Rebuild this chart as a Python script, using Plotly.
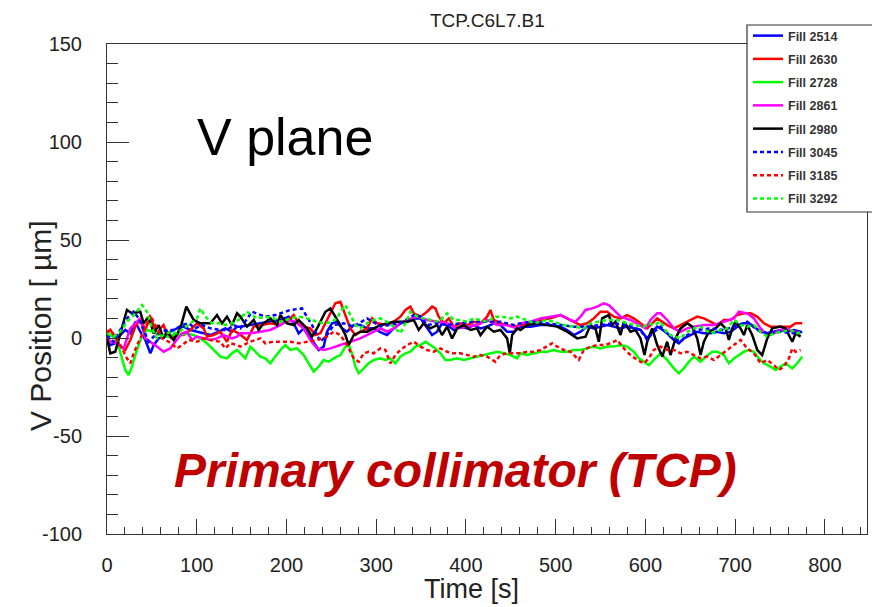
import plotly.graph_objects as go

# ---------------- data (time [s], V position [um]) ----------------
names = ["Fill 2514", "Fill 2630", "Fill 2728", "Fill 2861", "Fill 2980",
         "Fill 3045", "Fill 3185", "Fill 3292"]
colors = ["#0000ff", "#ff0000", "#00ff00", "#ff00ff", "#000000",
          "#0000ff", "#ff0000", "#00ff00"]
dashes = ["solid", "solid", "solid", "solid", "solid",
          "4px,3px", "4px,3px", "4px,3px"]

t_2514 = [0, 3.7, 9.2, 14.8, 20.4, 26, 31.6, 37.1, 42.7, 48.3, 52, 57.6, 63.1, 70.6, 78, 85.4, 92.9, 100.3, 107.7,
          115.2, 124.5, 131.9, 139.3, 144.9, 148.6, 159.7, 170.9, 182, 193.2, 202.5, 208.1, 213.6, 219.2, 224.8,
          230.4, 235.9, 241.5, 245.2, 250.8, 256.4, 261.9, 267.5, 275, 282.4, 289.8, 297.2, 304.7, 312.1, 319.6,
          327, 334.4, 341.9, 349.3, 356.7, 362.3, 367.9, 373.4, 379, 386.5, 393.9, 401.3, 408.7, 416.2, 423.6,
          431, 438.5, 445.9, 453.3, 460.8, 472, 483.1, 494.2, 505.4, 512.8, 520.3, 527.7, 535.1, 542.6, 550,
          557.4, 564.8, 572.3, 579.7, 587.1, 594.6, 602, 607.6, 613.2, 616.9, 624.3, 631.8, 637.3, 642.9, 650.3,
          657.8, 665.2, 672.6, 680.1, 687.5, 694.9, 702.4, 709.8, 715.4, 721, 728.4, 735.8, 743.2, 750.7, 758.1,
          765.5, 773]
v_2514 = [-1.9, -3.6, -2.7, 1.5, 4.1, 2.4, 8.3, 3.2, -1, -7.8, -3.6, -0.2, 0.7, 3.2, 4.9, 5.8, 4.1, 3.2, 2.4,
          1.5, 3.2, 4.9, 3.2, 5.8, 5.8, 6.6, 7.5, 8.3, 9.2, 10.9, 7.5, 2.4, 4.9, 1.5,
          -2.7, -6.1, -4.4, 3.2, 7.5, 8.3, 4.9, 3.2, 6.6, 6.6, 4.9, 5.0, 3.0, 1.5, 4.9,
          7.5, 8.3, 10, 10, 4.9, 1.5, 3.2, 7.5, 6.6, 4.1, 5.8, 4.9, 6.6, 4.9, 5.8,
          7.5, 6.6, 3.2, 3.2, 5.8, 5.8, 6.6, 6.6, 5.8, 4.1, 1.5, 3.2, 5.8, 4.9, 5.8,
          6.6, 5.8, 4.9, 5.8, 4.9, 4.1, -0.2, 3.2, 5.8, 4.9, 2.4, -1, -2.7, -0.2, 1.5,
          3.2, 2.4, 2.4, 3.2, 2.4, 3.2, 5.8, 7.5, 7.5, 5.8, 3.2, 2.4, 3.2, 4.1, 3.2,
          4.1, 3.2]

t_2630 = [0, 3.7, 9.2, 14.8, 20.4, 26, 31.6, 37.1, 42.7, 48.3, 52, 55.7, 59.4, 63.1, 66.8, 72.4, 78, 85.4, 92.9,
          100.3, 107.7, 111.4, 118.9, 126.3, 133.7, 139.3, 146.7, 156, 163.5, 170.9, 182, 193.2, 202.5, 208.1,
          213.6, 219.2, 226.6, 232.2, 237.8, 245.2, 254.5, 260.1, 263.8, 267.5, 271.2, 276.8, 282.4, 289.8, 295.4,
          301, 312.1, 319.6, 327, 332.6, 338.1, 341.9, 349.3, 356.7, 362.3, 366, 369.7, 375.3, 380.9, 386.5,
          393.9, 401.3, 408.7, 416.2, 423.6, 427.3, 431, 438.5, 445.9, 453.3, 460.8, 472, 483.1, 494.2, 505.4,
          512.8, 520.3, 527.7, 535.1, 542.6, 550, 557.4, 564.8, 572.3, 579.7, 587.1, 594.6, 602, 607.6, 613.2,
          624.3, 631.8, 639.2, 646.6, 657.8, 665.2, 672.6, 680.1, 687.5, 694.9, 702.4, 709.8, 717.2, 724.7, 732.1,
          739.5, 747, 754.4, 761.8, 767.4, 774.8]
v_2630 = [2.4, 4.1, 0.7, -4.4, -6.1, -1, 5.8, 10, 4.1, 10.9, 6.6, 1.5, 4.9, 6.6, 1.5, -0.2, 1.5, 1.5, 4.1,
          7.5, 4.9, 0.7, 1.5, 3.2, -1.9, 4.1, 2.4, -1, 5.8, 6.6, 7.5, 6.6, 9.2, 11.7,
          7.5, 5.8, 4.9, 1.5, 2.4, 9.2, 17.7, 18.5, 14.3, 10, 4.9, 1.5, 3.2, 4.9, 10,
          7.5, 6.6, 8.3, 10.9, 14.3, 16, 12.6, 10.9, 13.4, 16, 15.1, 10.9, 7.5, 10, 5.8,
          7.5, 6.6, 8.3, 7.5, 10.9, 14.3, 9.2, 7.5, 6.6, 5.8, 6.6, 7.5, 9.2, 10, 11.7,
          10, 8.3, 6.6, 7.5, 10, 13.4, 13.4, 10.9, 10, 11.7, 10, 7.5, 4.9, 7.5, 10,
          6.6, 4.9, 6.6, 8.3, 10.9, 10, 8.3, 6.6, 9.2, 9.2, 11.7, 12.6, 12.6, 10.9, 7.5,
          5.8, 5.8, 5.8, 5.8, 7.5, 7.5]

t_2728 = [0, 3.7, 9.2, 13, 16.7, 20.4, 24.1, 27.8, 31.6, 35.3, 39, 44.6, 52, 59.4, 66.8, 74.3, 81.7, 89.1, 96.6,
          104, 111.4, 118.9, 126.3, 133.7, 139.3, 144.9, 148.6, 154.2, 159.7, 165.3, 170.9, 176.5, 182, 187.6,
          193.2, 198.8, 204.3, 211.8, 219.2, 224.8, 230.4, 235.9, 241.5, 247.1, 252.6, 260.1, 265.7, 269.4, 273.1,
          276.8, 280.5, 286.1, 291.7, 297.2, 304.7, 310.3, 315.8, 321.4, 327, 332.6, 338.1, 343.7, 349.3, 354.9,
          360.4, 366, 371.6, 377.2, 382.7, 390.2, 397.6, 405, 412.5, 419.9, 427.3, 434.8, 442.2, 449.6, 457.1,
          460.8, 468.2, 475.7, 483.1, 490.5, 498, 505.4, 512.8, 520.3, 527.7, 535.1, 542.6, 550, 557.4, 564.8,
          572.3, 579.7, 587.1, 592.7, 598.3, 603.9, 609.4, 616.9, 624.3, 631.8, 637.3, 642.9, 648.5, 654.1, 661.5,
          667.1, 674.5, 680.1, 687.5, 693.1, 698.7, 704.2, 709.8, 715.4, 721, 726.5, 732.1, 739.5, 745.1, 750.7,
          756.3, 763.7, 769.3, 774.8]
v_2728 = [1.5, 1.5, -0.2, -4.4, -10.4, -16.3, -18.9, -14.6, -8.7, -3.6, 1.5, 4.1, 3.2, 1.5, 0.7, 1.5, 1.5, 2.4, 1.5,
          -0.2, -2.7, -6.1, -9.5, -10.4, -7.8, -6.1, -7.8, -10.4, -4.4, -7, -9.5, -10.4, -12.9, -9.5,
          -6.1, -3.6, -6.1, -5.3, -8.7, -12.9, -17.2, -14.6, -11.2, -12.1, -10.4, -8.7, -4.4, -3.6, -7.8,
          -14.6, -18, -15.5, -12.9, -11.2, -10.4, -11.2, -10.4, -12.9, -9.5, -7.8, -7, -4.4, -3.6, -1.9,
          -3.6, -5.3, -7.8, -11.2, -11.2, -10.4, -11.2, -10.4, -9.5, -8.7, -7.8, -7, -7.8, -8.7, -10.4,
          -7.8, -8.7, -7.8, -7, -7, -6.1, -7, -7, -6.1, -6.1, -5.3, -4.4, -5.3, -4.4, -4.4,
          -3.6, -4.4, -7, -10.4, -12.1, -13.8, -11.2, -7.8, -11.2, -15.5, -18, -15.5, -12.1, -9.5, -12.1,
          -9.5, -7, -7, -8.7, -12.9, -10.4, -8.7, -7, -6.1, -7, -10.4, -12.9, -14.6, -16.3, -14.6,
          -12.9, -15.5, -12.9, -9.5]

t_2861 = [0, 3.7, 11.1, 18.5, 26, 31.6, 37.1, 42.7, 48.3, 55.7, 63.1, 70.6, 76.1, 83.6, 89.1, 94.7, 100.3, 107.7,
          115.2, 122.6, 130, 139.3, 144.9, 148.6, 159.7, 170.9, 182, 193.2, 200.6, 209.9, 219.2, 226.6, 234.1,
          241.5, 248.9, 260.1, 271.2, 282.4, 293.5, 304.7, 312.1, 319.6, 327, 334.4, 345.6, 356.7, 367.9, 379,
          390.2, 401.3, 412.5, 423.6, 434.8, 445.9, 457.1, 460.8, 472, 483.1, 494.2, 505.4, 516.5, 522.1, 527.7,
          533.3, 540.7, 546.3, 553.7, 559.3, 564.8, 572.3, 583.4, 594.6, 600.2, 605.7, 613.2, 616.9, 624.3, 631.8,
          639.2, 646.6, 654.1, 665.2, 676.4, 687.5, 698.7, 704.2, 713.5, 721, 728.4, 735.8, 743.2, 750.7, 758.1,
          765.5, 773]
v_2861 = [0.7, -1.9, -2.7, -5.3, 4.9, 7.5, 10, -0.2, -1.9, -4.4, -7, -5.3, -1.9, 2.4, 3.2, -1, 0.7, -0.2,
          -1, -0.2, 1.5, -0.2, 0.7, 2.4, 2.4, 3.2, 4.1, 6.6, 9.2, 8.3, 4.9, -1, -5.3,
          -6.1, -5.3, -3.6, -1.9, -0.2, 2.4, 4.9, 3.2, 4.9, 7.5, 9.2, 10.9, 9.2, 8.3, 7.5,
          4.9, 5.8, 6.6, 9.2, 6.6, 6.6, 4.9, 7.5, 8.3, 10, 10.9, 11.7, 9.2, 8.3, 10.9,
          14.3, 15.1, 16, 17.7, 16.8, 14.3, 10.9, 9.2, 6.6, 4.9, 9.2, 12.6, 12.6, 9.2, 4.9,
          3.2, 4.9, 5.8, 6.6, 6.6, 8.3, 10, 13.4, 12.6, 10, 4.9, 1.5, 2.4, 4.1, 4.9,
          3.2, 2.4]

t_2980 = [0, 3.7, 9.2, 22.2, 27.8, 37.1, 40.8, 46.4, 52, 57.6, 63.1, 66.8, 74.3, 81.7, 88.4, 96.6, 104, 115.2,
          122.6, 128.2, 133.7, 139.3, 144.9, 148.6, 156, 163.5, 169, 174.6, 182, 189.5, 193.2, 200.6, 208.1,
          213.6, 222.9, 228.5, 234.1, 243.4, 249, 254.5, 260.1, 265.7, 269.4, 275, 282.4, 289.8, 297.2, 304.7,
          319.6, 334.4, 341.9, 347.4, 353, 360.4, 367.9, 373.4, 379, 384.6, 390.2, 397.6, 405, 412.5, 416.2,
          423.6, 431, 438.5, 445.9, 448.9, 451.5, 457.1, 460.8, 468.2, 479.4, 490.5, 501.7, 512.8, 524, 533.3,
          538.8, 544.4, 548.1, 551.8, 559.3, 563, 566.7, 572.3, 576, 583.4, 589, 594.6, 599, 602, 607.6, 613.2,
          618.8, 624.3, 628, 633.6, 639.2, 646.6, 652.2, 657.8, 661.5, 665.2, 670.8, 678.2, 683.8, 689.4, 693.1,
          696.8, 700.5, 706.1, 709.8, 713.5, 719.1, 724.7, 730.2, 735.8, 741.4, 750.7, 756.3, 763.7, 767.4, 773]
v_2980 = [0, -7.8, -7, 14.3, 12.6, 13.4, 7.5, 10.9, 2.4, 6.6, -0.2, 3.2, -1, 4.9, 16, 9.2, 7.5, 7.5,
          11.7, 7.5, 10.9, 6.6, 12.6, 10.9, 5.8, 9.2, 4.1, 7.5, 10, 6.6, 11.7, 7.5, 6.6,
          9.2, 4.9, 0.7, 4.9, 13.4, 15.1, 10.9, 6.6, 1.5, -3.6, 1.5, 3.2, 3.2, 4.9, 6.6,
          8.3, 8.3, 9.2, 4.1, 7.5, 4.9, 6.6, 1.5, 5.8, -0.2, 4.9, 6.6, 4.1, 4.9, 1.5,
          5.8, 3.2, 4.1, -0.2, -7.8, 1.5, 4.9, 4.1, 6.6, 7.5, 6.6, 5.8, 3.2, -0.2, 0.7,
          6.6, 4.9, -1.9, 10, 11.7, 6.6, 8.3, 1.5, 8.3, 3.2, 4.1, -0.2, -8.7, -1.9, 4.9, -3.6,
          -9.5, -1.9, -8.7, -0.2, 4.9, 7.5, 5.8, -0.2, -8.7, -1.9, 3.2, 4.9, 7.5, 4.9, -1,
          4.9, 8.3, 4.9, 1.5, 6.6, 1.5, -6.1, -8.7, -0.2, 4.9, 5.8, 4.9, -1.9, 2.4, 0.7]

t_3045 = [0, 7.4, 14.8, 22.2, 29.7, 35.3, 40.8, 46.4, 52, 57.6, 66.8, 74.3, 83.6, 91, 98.4, 105.9, 115.2, 126.3,
          133.7, 141.2, 148.6, 161.6, 176.5, 187.6, 204.3, 217.3, 228.5, 237.8, 245.2, 252.6, 263.8, 275, 289.8,
          304.7, 327, 341.9, 349.3, 356.7, 367.9, 379, 393.9, 408.7, 423.6, 438.5, 453.3, 460.8, 475.7, 490.5,
          505.4, 520.3, 535.1, 550, 564.8, 579.7, 594.6, 602, 607.6, 616.9, 628, 639.2, 646.6, 657.8, 672.6,
          687.5, 702.4, 713.5, 724.7, 735.8, 750.7, 765.5, 774.8]
v_3045 = [1.5, -1.9, 4.1, 10, 13.4, 10, 4.1, -1.9, 0.7, 2.4, 4.1, 4.1, 6.6, 7.5, 4.9, 6.6, 4.9, 4.1,
          4.1, 6.6, 4.9, 13.4, 10.9, 11.7, 14.3, 15.1, 6.6, -1.9, 1.5, 6.6, 7.5, 5.8, 10,
          6.0, 7.5, 11.7, 10.9, 6.6, 7.5, 6.6, 7.5, 8.3, 8.3, 8.3, 6.6, 7.5, 8.3, 7.5,
          6.6, 5.8, 5.8, 6.6, 7.5, 6.6, 4.1, -1, 2.4, 5.8, 0.7, -1.9, 1.5, 4.1, 4.9,
          4.1, 6.6, 8.3, 4.1, 2.4, 3.2, 2.4, 3.2]

t_3185 = [0, 3.7, 14.8, 22.2, 26, 29.7, 35.3, 40.8, 48.3, 53.9, 61.3, 68.7, 78, 83.6, 91, 100.3, 107.7, 115.2,
          126.3, 131.9, 137.5, 144.9, 148.6, 159.7, 170.9, 176.5, 185.8, 196.9, 204.3, 213.6, 222.9, 234.1, 245.2,
          252.6, 260.1, 267.5, 275, 280.5, 286.1, 291.7, 297.2, 304.7, 310.3, 315.8, 321.4, 327, 334.4, 341.9,
          349.3, 356.7, 364.2, 371.6, 379, 384.6, 393.9, 401.3, 408.7, 416.2, 423.6, 432.9, 438.5, 445.9, 453.3,
          460.8, 468.2, 475.7, 483.1, 490.5, 496.1, 501.7, 509.1, 516.5, 525.8, 531.4, 538.8, 546.3, 553.7, 561.1,
          568.6, 576, 583.4, 590.9, 598.3, 603.9, 609.4, 616.9, 624.3, 631.8, 639.2, 646.6, 654.1, 661.5, 668.9,
          676.4, 683.8, 691.2, 698.7, 706.1, 713.5, 721, 728.4, 735.8, 743.2, 748.8, 754.4, 760, 763.7, 767.4, 773]
v_3185 = [3.2, 4.1, -3.6, -10.4, -12.9, -7.8, -1.9, 3.2, 11.7, 6.6, -0.2, -1.9, -5.3, -3.6, -1, -1.9, -0.2, -1,
          -1.9, -5.3, -2.7, -3.6, -4.4, -1.9, -0.2, -2.7, -1.9, -1.9, -1.9, -2.7, -1.9, -1, 0.7,
          3.2, 1.5, -3.6, -10.4, -12.1, -7.8, -7, -7.8, -5.3, -6.1, -12.9, -8.7, -6.1, -3.6, -1.9,
          -4.4, -6.1, -7, -5.3, -7, -7.8, -7.8, -8.7, -9.5, -8.7, -9.5, -12.1, -8.7, -7.8, -7.8,
          -7.8, -7, -7, -6.1, -4.4, -2.7, -4.4, -6.1, -7, -11.2, -6.1, -4.4, -3.6, -3.6, -2.7,
          -1, -5.3, -8.7, -11.2, -12.9, -10.4, -6.1, -4.4, -6.1, -6.1, -7.8, -7, -8.7, -10.4, -9.5,
          -11.2, -8.7, -6.1, -3.6, -1, -5.3, -7.8, -12.9, -11.2, -13.8, -16.3, -14.6, -10.4, -5.3, -7, -6.1]

t_3292 = [0, 7.4, 14.8, 22.2, 29.7, 35.3, 39, 44.6, 50.1, 55.7, 63.1, 70.6, 78, 85.4, 92.9, 100.3, 104, 109.6,
          117.1, 124.5, 131.9, 139.3, 146.7, 148.6, 156, 167.2, 176.5, 185.8, 193.2, 204.3, 213.6, 222.9, 234.1,
          243.4, 250.8, 256.4, 260.1, 265.7, 271.2, 276.8, 282.4, 289.8, 297.2, 304.7, 312.1, 319.6, 327, 332.6,
          338.1, 345.6, 353, 360.4, 369.7, 379, 386.5, 393.9, 401.3, 408.7, 416.2, 423.6, 432.9, 440.3, 449.6,
          457.1, 460.8, 468.2, 475.7, 483.1, 490.5, 498, 509.1, 520.3, 531.4, 538.8, 550, 557.4, 568.6, 579.7,
          589, 598.3, 603.9, 609.4, 616.9, 624.3, 631.8, 639.2, 646.6, 654.1, 661.5, 672.6, 683.8, 691.2, 698.7,
          706.1, 713.5, 721, 728.4, 735.8, 743.2, 754.4, 761.8, 769.3, 774.8]
v_3292 = [2.4, 0.7, 3.2, 8.3, 11.7, 15.1, 16.8, 13.4, 4.9, -0.2, 1.5, 3.2, 2.4, 4.9, 7.5, 10, 15.1, 10.9,
          7.5, 7.5, 6.6, 7.5, 9.2, 10, 13.4, 10, 10.9, 10, 8.3, 10, 10.9, 10, 8.3,
          7.5, 8.3, 10, 13.4, 16.8, 11.7, 6.6, 4.9, 7.5, 9.2, 10, 8.3, 5.8, 2.4, 7.5,
          13.4, 10.9, 10, 9.2, 8.3, 12.6, 9.2, 9.2, 8.3, 10, 9.2, 8.3, 10.9, 10.9, 10,
          10.9, 10, 9.2, 7.5, 8.3, 9.2, 8.3, 6.6, 5.8, 4.9, 7.5, 8.3, 9.2, 9.2, 7.5,
          6.6, 5.8, 7.5, 6.6, 8.3, 2.4, 0.7, -0.2, 3.2, 4.9, 5.8, 2.4, 4.1, 4.9, 9.2,
          6.6, 5.8, 6.6, 3.2, 0.7, 2.4, 3.2, 4.1, 2.4, 3.2]

series_t = [t_2514, t_2630, t_2728, t_2861, t_2980, t_3045, t_3185, t_3292]
series_v = [v_2514, v_2630, v_2728, v_2861, v_2980, v_3045, v_3185, v_3292]

x_ticks = [0, 100, 200, 300, 400, 500, 600, 700, 800]
y_ticks = [-100, -50, 0, 50, 100, 150]
y_ticklabels = ["-100", "-50", "0", "50", "100", "150"]

# ---------------- figure ----------------
FONT = "Arial, 'Liberation Sans', sans-serif"
fig = go.Figure()
for i in range(len(names)):
    fig.add_trace(go.Scatter(
        x=series_t[i], y=series_v[i], mode="lines", name="<b>" + names[i] + "</b>",
        legendgroup=names[i],
        line=dict(color=colors[i], width=2.5, dash=dashes[i]),
    ))

W, H = 872, 607
L, R, T, B = 107, 5, 44, 73
pw, ph = W - L - R, H - T - B

def px_x(px):
    return (px - L) / pw

def px_y(py):
    return (H - B - py) / ph

fig.update_layout(
    width=W, height=H,
    margin=dict(l=L, r=R, t=T, b=B, autoexpand=False),
    paper_bgcolor="white", plot_bgcolor="white",
    font=dict(family=FONT, color="#222222"),
    showlegend=True,
    legend=dict(
        x=px_x(748), y=px_y(21), xanchor="left", yanchor="top",
        bgcolor="rgba(0,0,0,0)", borderwidth=0,
        font=dict(size=12.5, color="#333333", family=FONT),
        traceorder="grouped", tracegroupgap=4, itemwidth=30,
    ),
    xaxis=dict(
        range=[0, 847], tickvals=x_ticks, ticks="inside", ticklen=15, tickwidth=1,
        tickcolor="#333333", showline=True, linecolor="#333333", linewidth=1, mirror=True,
        showgrid=False, zeroline=False, tickfont=dict(size=20, color="#222222"),
        ticklabelstandoff=13,
        minor=dict(dtick=20, ticks="inside", ticklen=7, tickcolor="#333333", showgrid=False),
    ),
    yaxis=dict(
        range=[-100, 150], tickvals=y_ticks, ticktext=y_ticklabels, ticks="inside", ticklen=22,
        tickwidth=1, tickcolor="#333333", showline=True, linecolor="#333333", linewidth=1, mirror=True,
        showgrid=False, zeroline=False, tickfont=dict(size=20, color="#222222"),
        ticklabelstandoff=20,
        minor=dict(dtick=10, ticks="inside", ticklen=11, tickcolor="#333333", showgrid=False),
    ),
    shapes=[dict(type="rect", xref="paper", yref="paper",
                 x0=px_x(747), x1=px_x(885), y0=px_y(212), y1=px_y(25),
                 line=dict(color="#333333", width=1.2), fillcolor="white", layer="above")],
    annotations=[
        dict(text="TCP.C6L7.B1", xref="paper", yref="paper", x=0.5, y=px_y(20),
             showarrow=False, font=dict(size=19, color="#222222"), xanchor="center", yanchor="middle"),
        dict(text="V plane", xref="paper", yref="paper", x=px_x(285), y=px_y(137),
             showarrow=False, font=dict(size=52, color="#000000"), xanchor="center", yanchor="middle"),
        dict(text="<b><i>Primary collimator (TCP)</i></b>", xref="paper", yref="paper",
             x=px_x(455), y=px_y(470), showarrow=False,
             font=dict(size=48, color="#c00000"), xanchor="center", yanchor="middle"),
        dict(text="Time [s]", xref="paper", yref="paper", x=px_x(471), y=px_y(589),
             showarrow=False, font=dict(size=27, color="#222222"), xanchor="center", yanchor="middle"),
        dict(text="V Position [ µm]", xref="paper", yref="paper", x=px_x(40), y=px_y(326),
             showarrow=False, textangle=-90, font=dict(size=30, color="#222222"),
             xanchor="center", yanchor="middle"),
    ],
)

fig.write_html("out.html")
